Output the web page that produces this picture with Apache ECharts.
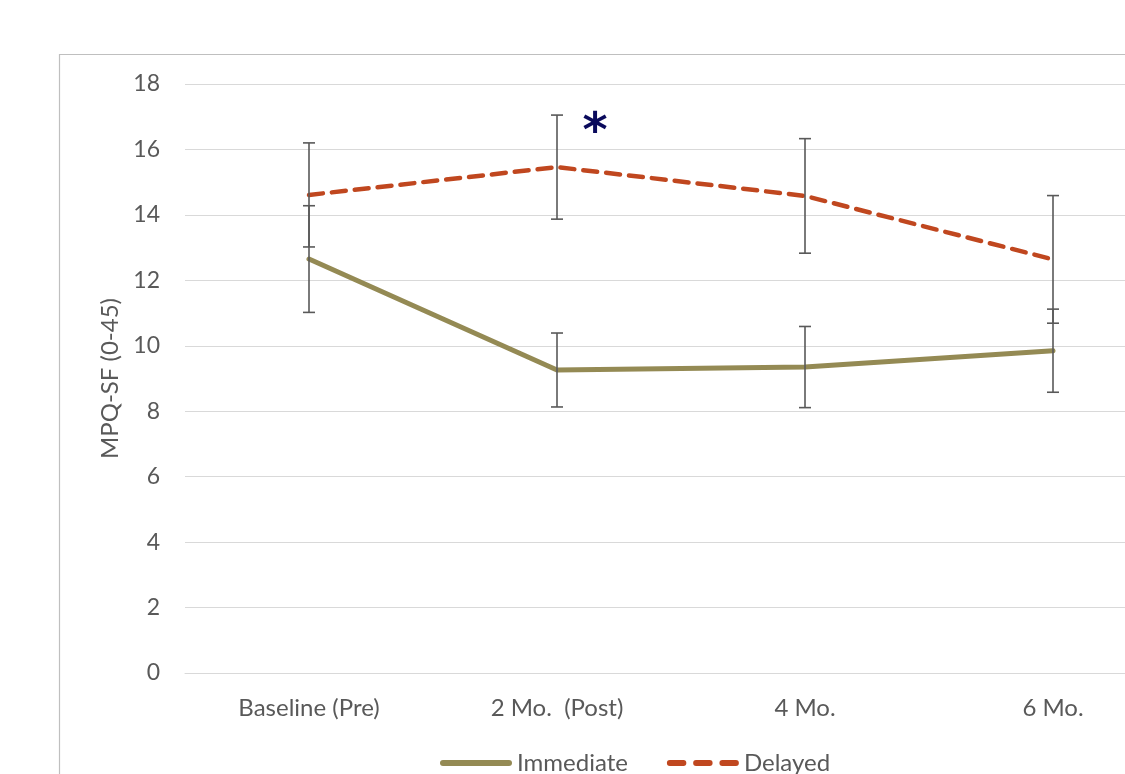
<!DOCTYPE html>
<html>
<head>
<meta charset="utf-8">
<script src="https://cdn.jsdelivr.net/npm/echarts@6/dist/echarts.min.js"></script>
<style>
html,body{margin:0;padding:0;background:#fff;overflow:hidden;width:1125px;height:774px;}
#chart{width:1200px;height:774px;}
</style>
</head>
<body>
<div id="chart"></div>
<script>
const categories = ['Baseline (Pre)', '2 Mo.  (Post)', '4 Mo.', '6 Mo.'];
const immediate = [12.65, 9.26, 9.35, 9.85];
const immediateErr = [1.63, 1.13, 1.24, 1.27];
const delayed = [14.61, 15.46, 14.58, 12.64];
const delayedErr = [1.59, 1.59, 1.75, 1.95];
const yTicks = { min: 0, max: 18, interval: 2 };
const seriesNames = ['Immediate', 'Delayed'];

const FONT = 'Lato, "Open Sans", sans-serif';
const TXT = '#595959';
const C_IMM = '#948A54';
const C_DEL = '#C0471F';

function errData(vals, errs) {
  return vals.map((v, i) => [i, v - errs[i], v + errs[i]]);
}
function errRender(params, api) {
  const x = api.value(0);
  const lo = api.coord([x, api.value(1)]);
  const hi = api.coord([x, api.value(2)]);
  const w = 6;
  const st = { stroke: '#595959', lineWidth: 1.6 };
  return {
    type: 'group',
    children: [
      { type: 'line', shape: { x1: lo[0], y1: lo[1], x2: hi[0], y2: hi[1] }, style: st },
      { type: 'line', shape: { x1: lo[0] - w, y1: lo[1], x2: lo[0] + w, y2: lo[1] }, style: st },
      { type: 'line', shape: { x1: hi[0] - w, y1: hi[1], x2: hi[0] + w, y2: hi[1] }, style: st }
    ]
  };
}

const chart = echarts.init(document.getElementById('chart'));
const option = {
  animation: false,
  textStyle: { fontFamily: FONT },
  grid: { left: 185, top: 84, right: 23, bottom: 101 },
  xAxis: {
    type: 'category',
    data: categories,
    boundaryGap: true,
    axisLine: { show: true, lineStyle: { color: '#d9d9d9', width: 1 } },
    axisTick: { show: false },
    axisLabel: { color: TXT, fontSize: 24, fontFamily: FONT, margin: 23 }
  },
  yAxis: {
    type: 'value',
    min: yTicks.min, max: yTicks.max, interval: yTicks.interval,
    name: 'MPQ-SF (0-45)',
    nameLocation: 'middle',
    nameGap: 60,
    nameRotate: 90,
    nameTextStyle: { color: TXT, fontSize: 24, fontFamily: FONT },
    axisLine: { show: false },
    axisTick: { show: false },
    axisLabel: { color: TXT, fontSize: 23, fontFamily: FONT, margin: 25 },
    splitLine: { lineStyle: { color: '#d9d9d9', width: 1 } }
  },
  legend: {
    left: 435,
    top: 746,
    itemWidth: 72,
    itemHeight: 6,
    itemGap: 39,
    textStyle: { color: TXT, fontSize: 24, fontFamily: FONT },
    data: [
      { name: seriesNames[0], icon: 'path://M3,0h66a3,3 0 0 1 0,6h-66a3,3 0 0 1 0,-6z' },
      { name: seriesNames[1], icon: 'path://M3,0h14a3,3 0 0 1 0,6h-14a3,3 0 0 1 0,-6z M30,0h14a3,3 0 0 1 0,6h-14a3,3 0 0 1 0,-6z M57,0h14a3,3 0 0 1 0,6h-14a3,3 0 0 1 0,-6z' }
    ]
  },
  series: [
    {
      name: seriesNames[0],
      type: 'line',
      data: immediate,
      symbol: 'none',
      lineStyle: { color: C_IMM, width: 5, cap: 'round' },
      itemStyle: { color: C_IMM },
      z: 2
    },
    {
      name: seriesNames[1],
      type: 'line',
      data: delayed,
      symbol: 'none',
      lineStyle: { color: C_DEL, width: 4.5, type: [14, 9], cap: 'round' },
      itemStyle: { color: C_DEL },
      z: 2
    },
    {
      type: 'custom',
      renderItem: errRender,
      data: errData(immediate, immediateErr),
      encode: { x: 0, y: [1, 2] },
      z: 5,
      silent: true
    },
    {
      type: 'custom',
      renderItem: errRender,
      data: errData(delayed, delayedErr),
      encode: { x: 0, y: [1, 2] },
      z: 5,
      silent: true
    }
  ]
};
chart.setOption(option);

const starPos = chart.convertToPixel({ gridIndex: 0 }, [1, 16.6]);
chart.setOption({
  graphic: [
    {
      type: 'rect',
      shape: { x: 59.5, y: 54.5, width: 3000, height: 3000 },
      style: { fill: 'none', stroke: '#bfbfbf', lineWidth: 1.2 },
      silent: true,
      z: -1
    },
    {
      type: 'text',
      x: starPos[0] + 38,
      y: starPos[1] + 4,
      style: {
        text: '*',
        fontSize: 48,
        fontWeight: 'bold',
        fontFamily: 'DejaVu Sans, sans-serif',
        fill: '#0A0A5C',
        align: 'center',
        verticalAlign: 'middle'
      }
    }
  ]
});
</script>
</body>
</html>
